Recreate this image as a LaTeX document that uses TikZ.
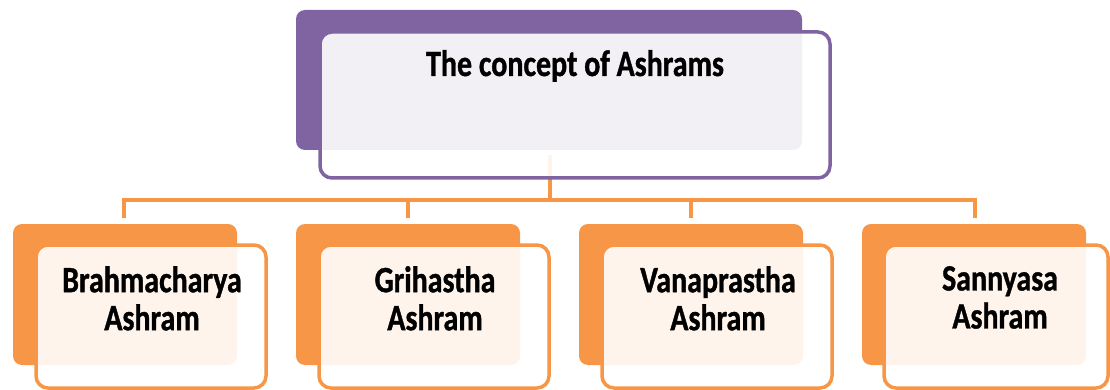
\documentclass[tikz,border=0pt]{standalone}
\usepackage{fontspec}
\setmainfont{Carlito}
\newfontfamily\condfont{Carlito}[FakeStretch=0.81, BoldFeatures={FakeBold=1}]
\definecolor{purp}{HTML}{8064A2}
\definecolor{orng}{HTML}{F79646}
\begin{document}
\begin{tikzpicture}[x=1pt,y=-1pt,
  backbox/.style={fill=#1, draw=none, rounded corners=9pt},
  frontbox/.style={draw=#1, line width=3.5pt, fill=white, fill opacity=0.9, draw opacity=1, rounded corners=12pt},
  conn/.style={draw=orng, line width=3.5pt},
  lbl/.style={font=\condfont\bfseries\fontsize{37}{38}\selectfont, inner sep=0pt, text=black},
  sublbl/.style={font=\condfont\bfseries\fontsize{37}{38}\selectfont, inner sep=0pt, align=center, text=black}]
\useasboundingbox (0,0) rectangle (1110,390);
\clip (0,0) rectangle (1110,390);
% back boxes
\path[backbox=purp] (296,10) rectangle (802,150);
\foreach \x in {13,296,579,862}{
  \path[backbox=orng] (\x,224) rectangle ++(224,141);
}
% connectors
\coordinate (top) at (550,155);
\coordinate (hub) at (550,200);
\coordinate (hl) at (124,200);
\coordinate (hr) at (975,200);
\coordinate (d1) at (124,218);
\coordinate (d2) at (408,218);
\coordinate (d3) at (691,218);
\coordinate (d4) at (975,218);
\draw[conn] (top) -- (hub);
\draw[conn] (d1) -- (hl) -- (hr) -- (d4);
\draw[conn] (d2) -- (d2 |- hub);
\draw[conn] (d3) -- (d3 |- hub);
% front boxes
\path[frontbox=purp] (320,32) rectangle (830,178);
\path[frontbox=orng] (36,245) rectangle (266,388);
\path[frontbox=orng] (319,245) rectangle (549,388);
\path[frontbox=orng] (602,245) rectangle (832,388);
\path[frontbox=orng] (884,245) rectangle (1108,388);
% labels
\node[lbl, anchor=base] (t) at (575,76) {The concept of Ashrams};
\node[sublbl, anchor=north] (b1) at (152,266) {Brahmacharya\\Ashram};
\node[sublbl, anchor=north] (b2) at (435,266) {Grihastha\\Ashram};
\node[sublbl, anchor=north] (b3) at (718,266) {Vanaprastha\\Ashram};
\node[sublbl, anchor=north] (b4) at (1000,266) {Sannyasa\\Ashram};
\end{tikzpicture}
\end{document}
